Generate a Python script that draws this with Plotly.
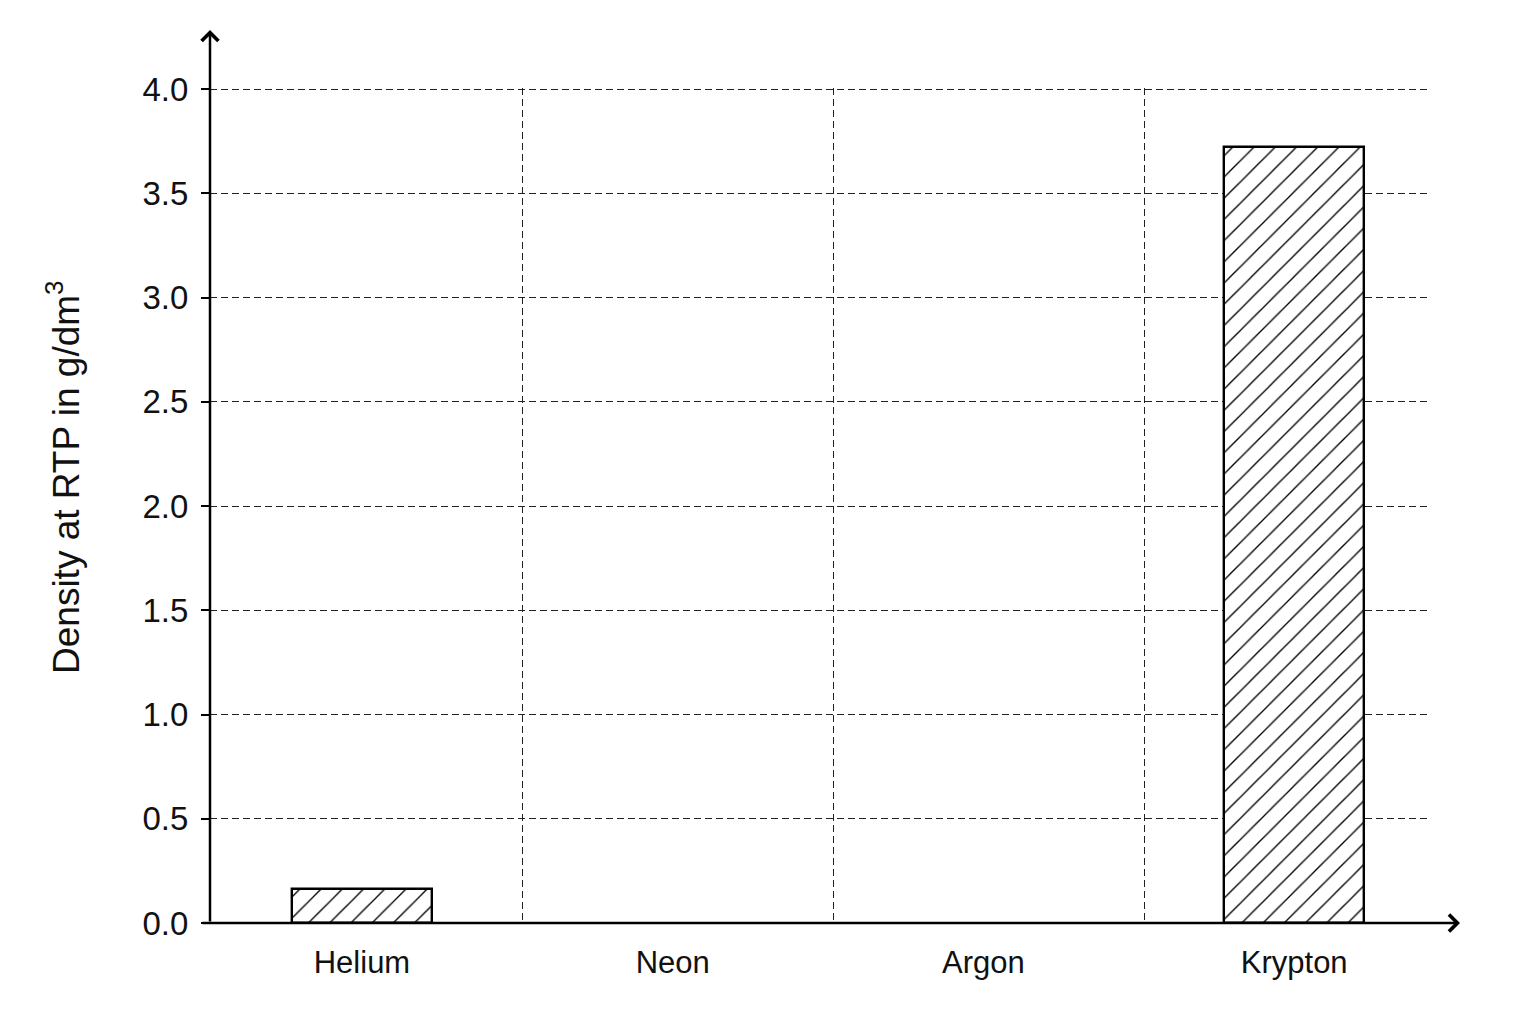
import plotly.graph_objects as go

categories = ["Helium", "Neon", "Argon", "Krypton"]
density = [0.163, None, None, 3.72]
y_ticks = [0.0, 0.5, 1.0, 1.5, 2.0, 2.5, 3.0, 3.5, 4.0]
y_tick_labels = ["0.0", "0.5", "1.0", "1.5", "2.0", "2.5", "3.0", "3.5", "4.0"]
y_title = "Density at RTP in g/dm<sup>3</sup>"

positions = list(range(len(categories)))
boundaries = [p + 0.517 for p in positions[:-1]]

FONT = "Liberation Sans, Arial, sans-serif"
OFF = 8  # page body margin

W, H = 1536, 1024
# target screen positions
left_px, right_px, top_px, bottom_px = 210, 1430, 88, 923
L = left_px - OFF
T = top_px - OFF
R = W - (right_px - OFF)
B = H - (bottom_px - OFF)
plot_w = right_px - left_px
plot_h = bottom_px - top_px

fig = go.Figure()
fig.add_trace(go.Bar(
    x=positions,
    y=density,
    width=0.45,
    marker=dict(
        color="white",
        line=dict(color="black", width=2.4),
        pattern=dict(shape="/", fgcolor="black", fgopacity=1, bgcolor="white",
                     size=15, solidity=0.09),
    ),
    showlegend=False,
    hoverinfo="skip",
))

fig.update_layout(
    width=W, height=H,
    margin=dict(l=L, r=R, t=T, b=B, pad=0),
    paper_bgcolor="white", plot_bgcolor="white",
    font=dict(family=FONT, size=31, color="#111"),
    xaxis=dict(
        range=[-0.489, 3.437],
        tickvals=positions, ticktext=categories,
        tickfont=dict(size=31),
        showgrid=False, zeroline=False,
        showline=False, ticks="",
        ticklabelstandoff=18,
        minor=dict(tickvals=boundaries, showgrid=True, griddash="7px,4px",
                   gridcolor="#222", gridwidth=1.4, ticks=""),
    ),
    yaxis=dict(
        range=[0, 4.005],
        tickvals=y_ticks, ticktext=y_tick_labels,
        tickfont=dict(size=33),
        showgrid=True, griddash="7px,4px", gridcolor="#222", gridwidth=1.4,
        zeroline=False, showline=False,
        ticks="outside", ticklen=8, tickwidth=2, tickcolor="black",
        ticklabelstandoff=6,
    ),
    bargap=0,
)

# axis lines with arrows
fig.add_annotation(
    x=1 + 30 / plot_w, y=0, xref="paper", yref="paper",
    ax=-(plot_w + 30 + 9), ay=0, axref="pixel", ayref="pixel",
    showarrow=True, arrowhead=4, arrowsize=1.3, arrowwidth=2.5,
    arrowcolor="black", standoff=0, text="",
)
fig.add_annotation(
    x=0, y=1 + 58 / plot_h, xref="paper", yref="paper",
    ax=0, ay=plot_h + 58, axref="pixel", ayref="pixel",
    showarrow=True, arrowhead=4, arrowsize=1.3, arrowwidth=2.5,
    arrowcolor="black", standoff=0, text="",
)

# y axis title
fig.add_annotation(
    x=(63 - left_px) / plot_w, y=(bottom_px - 478) / plot_h, xref="paper", yref="paper",
    text=y_title, textangle=-90, showarrow=False,
    xanchor="center", yanchor="middle",
    font=dict(family=FONT, size=37, color="#111"),
)

fig.write_html("out.html")
